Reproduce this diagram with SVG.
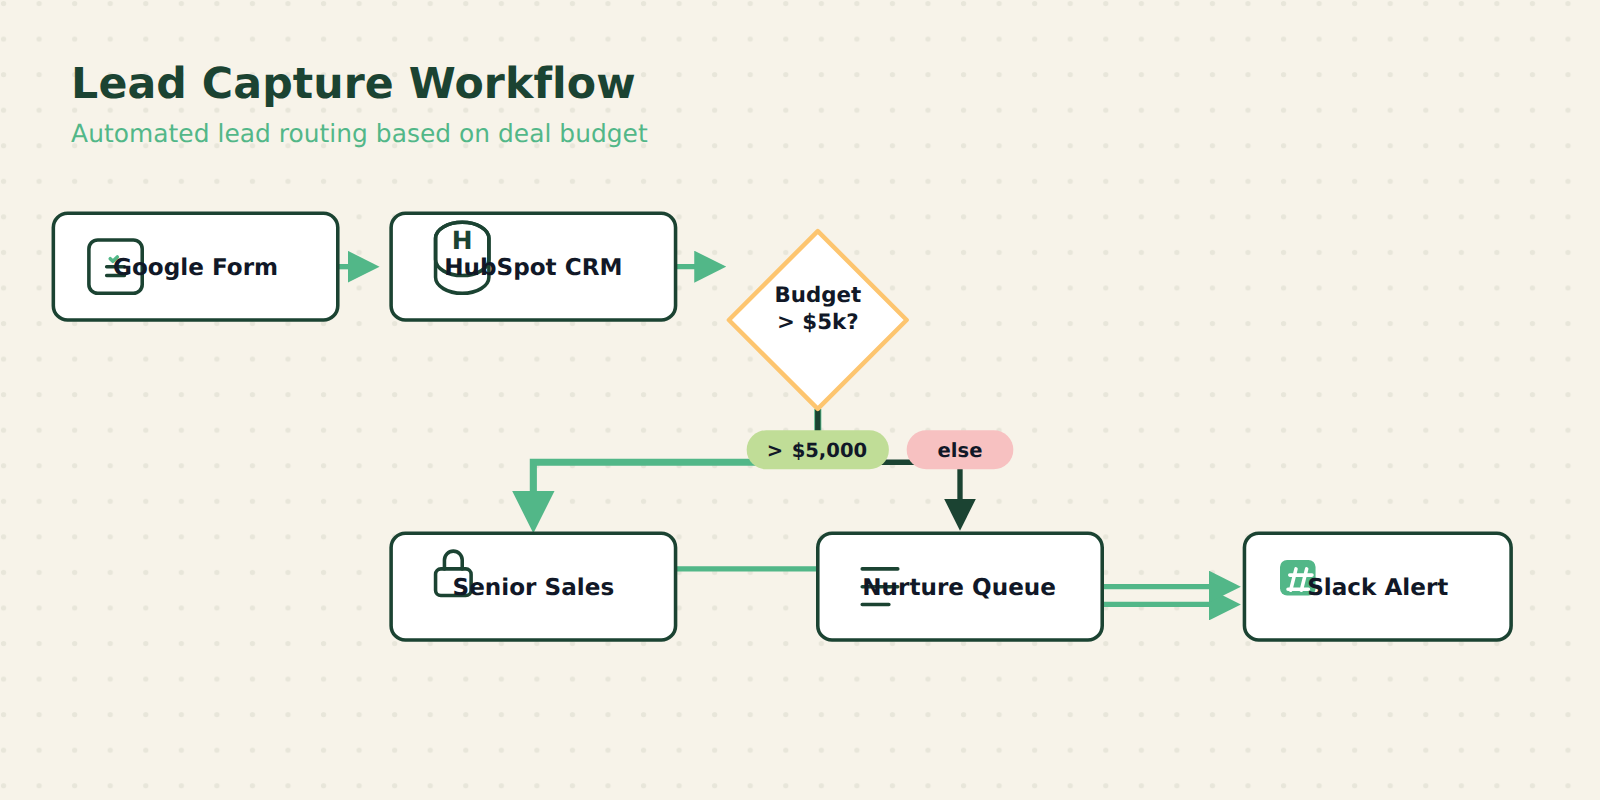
<svg xmlns="http://www.w3.org/2000/svg" width="1600" height="800" viewBox="0 0 1600 800">
<style>
text{font-family:"DejaVu Sans",sans-serif;font-weight:700;fill:#111827;text-anchor:middle;text-rendering:geometricPrecision;font-variant-ligatures:none}
.n{fill:#fff;stroke:#1b4332;stroke-width:4}
.i{fill:none;stroke:#1b4332;stroke-width:4;stroke-linecap:round;stroke-linejoin:round}
.t{font-size:26px}
.l{font-size:22px}
.b{font-size:24px}
.g{fill:none;stroke:#52b788;stroke-width:6}
.d{fill:none;stroke:#1b4332;stroke-width:6}
</style>
<defs>
<pattern id="dots" width="40" height="40" patternUnits="userSpaceOnUse"><circle cx="4" cy="4" r="3" fill="#e8e6da"/></pattern>
<marker id="ag" markerWidth="6" markerHeight="6" refX="3" refY="3" orient="auto" markerUnits="strokeWidth"><path d="M0 0L6 3L0 6z" fill="#52b788"/></marker>
<marker id="ad" markerWidth="6" markerHeight="6" refX="3" refY="3" orient="auto" markerUnits="strokeWidth"><path d="M0 0L6 3L0 6z" fill="#1b4332"/></marker>
</defs>
<g transform="scale(.88889)">
<rect width="1800" height="900" fill="#f7f3e9"/>
<rect width="1800" height="900" fill="url(#dots)"/>
<text x="80" y="110" style="font-size:48px;letter-spacing:.1px;fill:#1b4332;text-anchor:start">Lead Capture Workflow</text>
<text x="80" y="160" style="font-size:28px;letter-spacing:.03px;font-weight:400;fill:#52b788;text-anchor:start">Automated lead routing based on deal budget</text>
<g id="connectors">
<path class="g" d="M380 300H409" marker-end="url(#ag)"/>
<path class="g" d="M760 300H799" marker-end="url(#ag)"/>
<path class="g" style="stroke-width:8" d="M920 460V520H600V576" marker-end="url(#ag)"/>
<path class="d" d="M920 460V520H1080V579" marker-end="url(#ad)"/>
<path class="g" d="M760 640H1000V680H1378" marker-end="url(#ag)"/>
<path class="g" d="M1240 660H1378" marker-end="url(#ag)"/>
</g>
<g id="google-form"><rect class="n" x="60" y="240" width="320" height="120" rx="16"/><rect class="i" x="100" y="270" width="60" height="60" rx="10"/><path class="i" d="M120 300H140M120 310H140"/><path class="i" style="stroke:#52b788" d="M124 291l3 3l5-5"/><text class="t" x="220" y="309">Google Form</text></g>
<g id="hubspot-crm"><rect class="n" x="440" y="240" width="320" height="120" rx="16"/><rect class="i" x="490" y="250" width="60" height="60" rx="30" ry="18"/><rect class="i" x="490" y="250" width="60" height="80" rx="30" ry="18"/><text x="520" y="280" style="font-size:28px;fill:#1b4332">H</text><text class="t" x="600" y="309">HubSpot CRM</text></g>
<g id="budget"><path d="M920 260L1020 360L920 460L820 360z" fill="#fff" stroke="#fdc56f" stroke-width="5" stroke-linejoin="round"/><text class="b" x="920" y="340">Budget</text><text class="b" x="920" y="370">&gt; $5k?</text></g>
<g id="label-yes"><rect x="840" y="484" width="160" height="44" rx="22" fill="#c0dd97"/><text class="l" style="word-spacing:2px" x="919" y="514">&gt; $5,000</text></g>
<g id="label-else"><rect x="1020" y="484" width="120" height="44" rx="22" fill="#f7c1c1"/><text class="l" x="1080" y="514">else</text></g>
<g id="senior-sales"><rect class="n" x="440" y="600" width="320" height="120" rx="16"/><rect class="i" x="490" y="640" width="40" height="30" rx="6"/><path class="i" d="M500 640V630a10 10 0 0 1 20 0V640"/><text class="t" x="600" y="669">Senior Sales</text></g>
<g id="nurture-queue"><rect class="n" x="920" y="600" width="320" height="120" rx="16"/><path class="i" d="M970 640H1010M970 660H1010M970 680H1000"/><text class="t" x="1079" y="669">Nurture Queue</text></g>
<g id="slack-alert"><rect class="n" x="1400" y="600" width="300" height="120" rx="16"/><rect x="1440" y="630" width="40" height="40" rx="8" fill="#52b788"/><path d="M1458 640L1452 664M1470 640L1464 664M1451 647H1476M1449 663H1472" fill="none" stroke="#fff" stroke-width="4" stroke-linecap="round"/><text class="t" x="1550" y="669">Slack Alert</text></g>
</g>
</svg>
